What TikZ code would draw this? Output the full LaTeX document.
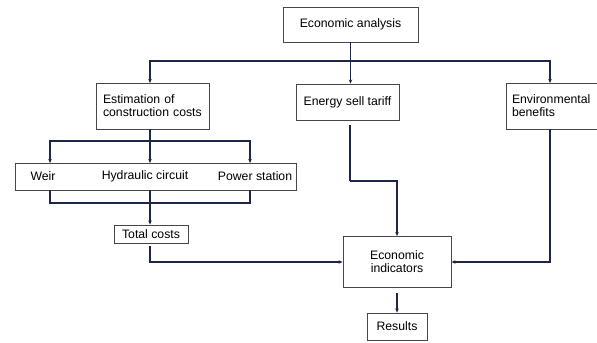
\documentclass[tikz,border=0pt]{standalone}
\usepackage{fontspec}
\setmainfont{Liberation Sans}
\usetikzlibrary{arrows.meta}
\definecolor{ln}{RGB}{28,38,70}
\definecolor{bx}{RGB}{70,70,70}
\begin{document}
\begin{tikzpicture}[x=1bp,y=-1bp,
  box/.style={draw=bx,line width=0.9bp,fill=white,inner sep=0pt,font=\fontsize{12.3}{14}\selectfont},
  lbl/.style={inner sep=0pt,font=\fontsize{12.3}{14}\selectfont},
  conn/.style={draw=ln,line width=1.05bp},
  arr/.style={conn,-{Stealth[length=4bp,width=3.5bp]}}]
\useasboundingbox (0,0) rectangle (597,342);
% boxes
\node[box,minimum width=135bp,minimum height=35bp] (ea) at (350.5,24.5) {Economic analysis};
\node[box,minimum width=113bp,minimum height=46bp,text width=99bp,align=left] (est) at (152.5,106) {Estimation of\\[-1pt]construction costs};
\node[box,minimum width=103bp,minimum height=36bp] (ets) at (347.5,102) {Energy sell tariff};
\node[box,minimum width=91bp,minimum height=46bp,text width=79bp,align=left] (env) at (551.5,106) {Environmental\\[-1pt]benefits};
\node[box,minimum width=281bp,minimum height=27bp] (wb) at (155.5,176.5) {};
\node[lbl] (weir) at (43,176) {Weir};
\node[lbl] (hyd) at (145,176) {Hydraulic circuit};
\node[lbl] (pow) at (255,176) {Power station};
\node[box,minimum width=74bp,minimum height=18bp] (tc) at (151,234) {Total costs};
\node[box,minimum width=108bp,minimum height=51bp,align=center] (ei) at (397,262) {Economic\\[-1pt]indicators};
\node[box,minimum width=60bp,minimum height=27bp] (res) at (397,326.5) {Results};
% junctions
\coordinate (j1) at (350,61);
\coordinate (j2) at (150,141);
\coordinate (wa) at (50,163);
\coordinate (ha) at (150,163);
\coordinate (pa) at (250,163);
\coordinate (wbb) at (50,190);
\coordinate (hb) at (150,190);
\coordinate (pb) at (250,190);
\coordinate (j3) at (150,203);
\coordinate (j4) at (350,181);
\coordinate (eae) at (550,83);
\coordinate (ese) at (150,83);
% connectors
\draw[arr] (ea.south) -- (ea.south |- ets.north);
\draw[arr] (j1) -| (ese);
\draw[arr] (j1) -| (eae);
\draw[conn] (est.south -| j2) -- (j2);
\draw[arr] (j2) -| (wa);
\draw[arr] (j2) -- (ha);
\draw[arr] (j2) -| (pa);
\draw[conn] (wbb) |- (j3);
\draw[conn] (pb) |- (j3);
\draw[conn] (hb) -- (j3);
\draw[arr] (j3) -- (j3 |- tc.north);
\draw[arr,shorten <=3bp] (tc.south -| j3) |- (ei.west);
\draw[conn,shorten <=5bp] (ets.south -| j4) -- (j4);
\draw[arr] (j4) -| (ei.north);
\draw[arr] (env.south -| eae) |- (ei.east);
\draw[arr,shorten <=5bp] (ei.south) -- (res.north);
\end{tikzpicture}
\end{document}
